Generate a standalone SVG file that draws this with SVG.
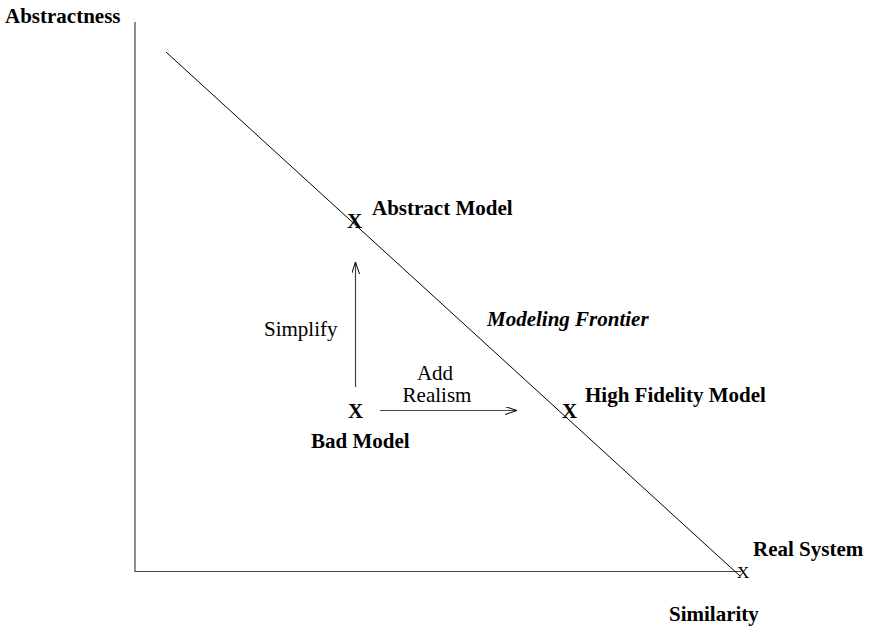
<svg xmlns="http://www.w3.org/2000/svg" width="869" height="630" viewBox="0 0 869 630">
  <style>
    text { font-family: "Liberation Serif", "Times New Roman", serif; font-size: 21px; fill: #000; }
    .b { font-weight: bold; }
    .bi { font-weight: bold; font-style: italic; }
    .ln { stroke: #000; stroke-width: 1; fill: none; }
    .ax { stroke: #444; stroke-width: 1.2; fill: none; }
  </style>
  <defs>
    <marker id="open" viewBox="0 0 12 8" refX="12" refY="4" markerWidth="12" markerHeight="8" markerUnits="userSpaceOnUse" orient="auto">
      <path d="M0,0 L12,4 L0,8" fill="none" stroke="#000" stroke-width="1"/>
    </marker>
  </defs>
  <rect width="869" height="630" fill="#fff"/>

  <g id="connectors">
    <!-- axes -->
    <line class="ax" x1="135" y1="22" x2="135" y2="572"/>
    <line class="ax" x1="135" y1="571.5" x2="741" y2="571.5"/>
    <!-- modeling frontier -->
    <line class="ln" x1="166" y1="52" x2="740" y2="576"/>
    <!-- moves -->
    <line class="ax" x1="355.5" y1="387" x2="355.5" y2="262" marker-end="url(#open)"/>
    <line class="ax" x1="380" y1="410.5" x2="517" y2="410.5" marker-end="url(#open)"/>
  </g>

  <g id="axis-labels">
    <text class="b" x="5" y="23">Abstractness</text>
    <text class="b" x="669" y="621">Similarity</text>
  </g>

  <g id="abstract-model">
    <text class="b" x="347" y="228">X</text>
    <text class="b" x="372" y="215">Abstract Model</text>
  </g>

  <g id="frontier-label">
    <text class="bi" x="487" y="326">Modeling Frontier</text>
  </g>

  <g id="simplify-label">
    <text x="264" y="336">Simplify</text>
  </g>

  <g id="realism-label">
    <text x="435" y="380" text-anchor="middle">Add</text>
    <text x="437" y="402" text-anchor="middle">Realism</text>
  </g>

  <g id="bad-model">
    <text class="b" x="348" y="418">X</text>
    <text class="b" x="311" y="448">Bad Model</text>
  </g>

  <g id="high-fidelity-model">
    <text class="b" x="562" y="418">X</text>
    <text class="b" x="585" y="402">High Fidelity Model</text>
  </g>

  <g id="real-system">
    <text x="737" y="578" style="font-size:17px">X</text>
    <text class="b" x="753" y="556">Real System</text>
  </g>
</svg>
